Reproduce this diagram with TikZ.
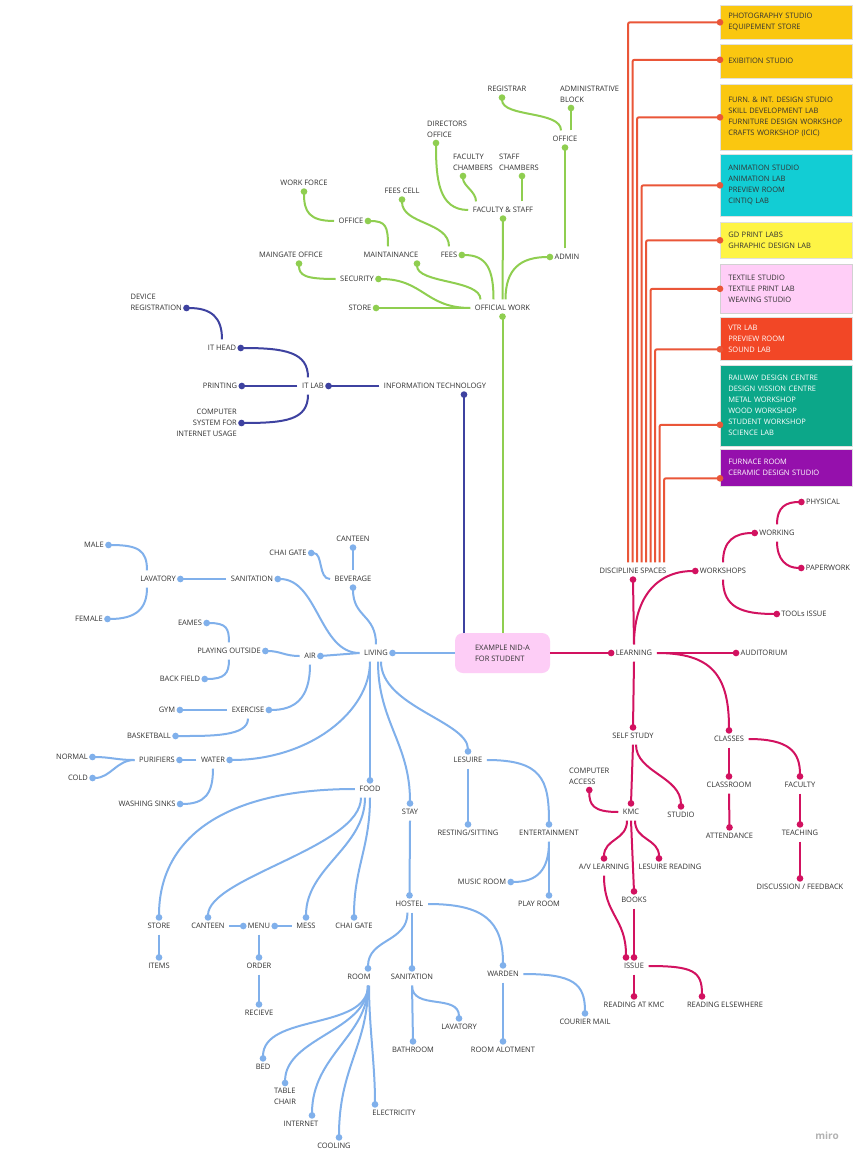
\documentclass[tikz,border=0pt]{standalone}
\usepackage{fontspec}
\setmainfont{Open Sans}
\usetikzlibrary{arrows.meta}
\definecolor{offGreen}{RGB}{143,206,80}
\definecolor{itBlue}{RGB}{62,66,160}
\definecolor{livBlue}{RGB}{128,176,235}
\definecolor{lrnMagenta}{RGB}{210,18,96}
\definecolor{dscOrange}{RGB}{234,86,56}
\definecolor{boxGold}{RGB}{250,199,16}
\definecolor{boxCyan}{RGB}{18,205,212}
\definecolor{boxYellow}{RGB}{254,244,69}
\definecolor{boxPink}{RGB}{255,206,247}
\definecolor{boxRed}{RGB}{242,71,38}
\definecolor{boxTeal}{RGB}{12,167,137}
\definecolor{boxPurple}{RGB}{149,16,172}
\definecolor{hubPink}{RGB}{253,205,246}
\definecolor{txtGray}{RGB}{50,50,50}
\tikzset{
  lbl/.style={font=\fontsize{7.5}{11}\selectfont, text=txtGray,
    inner xsep=4.5pt, inner ysep=5.5pt, text height=5.4pt, text depth=0.4pt},
  mlbl/.style={font=\fontsize{7.5}{11}\selectfont, text=txtGray,
    inner xsep=4.5pt, inner ysep=5.3pt},
  hubbox/.style={rectangle, rounded corners=8pt, fill=hubPink,
    minimum width=95pt, minimum height=40pt, align=left,
    font=\fontsize{7.5}{11}\selectfont, text=txtGray},
  dbox/.style={rectangle, draw=black!12, line width=0.6pt, anchor=north west,
    minimum width=132pt, text width=116pt, inner xsep=8pt, align=left,
    font=\fontsize{7.5}{11}\selectfont, text=txtGray},
  lnk/.style={line width=2pt, -{Circle[length=6.5pt]}, shorten >=-3.25pt},
  offlink/.style={lnk, draw=offGreen},
  itlink/.style={lnk, draw=itBlue},
  livlink/.style={lnk, draw=livBlue},
  lrnlink/.style={lnk, draw=lrnMagenta},
  dsclink/.style={lnk, draw=dscOrange, rounded corners=2pt},
}
\begin{document}
\begin{tikzpicture}[x=1pt, y=-1pt]
\fill[white] (0,0) rectangle (861,1161);
\useasboundingbox (0,0) rectangle (861,1161);

\node[hubbox] (hub) at (502.5,653) {EXAMPLE NID-A\\FOR STUDENT};

% official work
\node[lbl] (offwork) at (502.5,308) {OFFICIAL WORK};
\node[lbl] (gstore) at (360,308) {STORE};
\node[lbl] (security) at (357,279) {SECURITY};
\node[lbl] (maint) at (391,255) {MAINTAINANCE};
\node[lbl] (fees) at (449,255) {FEES};
\node[lbl] (facstaff) at (503,210) {FACULTY \& STAFF};
\node[lbl] (admin) at (567,257) {ADMIN};
\node[lbl] (office1) at (565,139) {OFFICE};
\node[lbl] (registrar) at (507,89) {REGISTRAR};
\node[mlbl, align=left, anchor=south west] (adminblk) at (555.5,108) {ADMINISTRATIVE\\BLOCK};
\node[mlbl, align=left, anchor=south west] (directors) at (422.5,143) {DIRECTORS\\OFFICE};
\node[mlbl, align=left, anchor=south west] (faccham) at (448.5,176) {FACULTY\\CHAMBERS};
\node[mlbl, align=left, anchor=south west] (stafcham) at (494.5,176) {STAFF\\CHAMBERS};
\node[lbl] (office2) at (351,221) {OFFICE};
\node[lbl] (workforce) at (304,183) {WORK FORCE};
\node[lbl] (feescell) at (402,191) {FEES CELL};
\node[lbl] (maingate) at (291,255) {MAINGATE OFFICE};

\draw[offlink] (hub.north) -- (offwork.south);
\draw[offlink] (offwork.west) -- (gstore.east);
\draw[offlink] (offwork.west) .. controls +(-45,0) and +(45,0) .. (security.east);
\draw[offlink] ([xshift=-22pt]offwork.north) .. controls +(0,-20) and +(0,20) .. ([xshift=26pt]maint.south);
\draw[offlink] ([xshift=-9pt]offwork.north) .. controls +(0,-30) and +(25,0) .. (fees.east);
\draw[offlink] (offwork.north) -- (facstaff.south);
\draw[offlink] ([xshift=3pt]offwork.north) .. controls +(0,-30) and +(-30,0) .. (admin.west);
\draw[offlink] (admin.north -| office1.south) -- (office1.south);
\draw[offlink] ([xshift=-4pt]office1.north) .. controls +(0,-20) and +(0,20) .. ([xshift=-5pt]registrar.south);
\draw[offlink] ([xshift=6pt]office1.north) -- ([xshift=15.5pt]adminblk.south west);
\draw[offlink] (facstaff.west) .. controls +(-30,0) and +(0,35) .. ([xshift=13.5pt]directors.south west);
\draw[offlink] ([xshift=-27pt]facstaff.north) .. controls +(0,-10) and +(0,10) .. ([xshift=14.5pt]faccham.south west);
\draw[offlink] ([xshift=19pt]facstaff.north) -- ([xshift=27.5pt]stafcham.south west);
\draw[offlink] ([xshift=-3pt]maint.north) .. controls +(0,-20) and +(18,0) .. (office2.east);
\draw[offlink] (office2.west) .. controls +(-25,0) and +(0,20) .. (workforce.south);
\draw[offlink] (fees.north) .. controls +(0,-25) and +(0,25) .. (feescell.south);
\draw[offlink] (security.west) .. controls +(-30,0) and +(0,12) .. ([xshift=8pt]maingate.south);

% information technology
\node[lbl] (infotech) at (435,386) {INFORMATION TECHNOLOGY};
\node[lbl] (itlab) at (313,386) {IT LAB};
\node[lbl] (printing) at (220,386) {PRINTING};
\node[lbl] (ithead) at (222,348) {IT HEAD};
\node[mlbl, align=right, anchor=east] (compsys) at (241.5,423) {COMPUTER\\SYSTEM FOR\\INTERNET USAGE};
\node[mlbl, align=left, anchor=east] (devreg) at (186.5,302.5) {DEVICE\\REGISTRATION};

\draw[itlink] ([xshift=-38.5pt]hub.north) -- ([xshift=29pt]infotech.south);
\draw[itlink] (infotech.west) -- (itlab.east);
\draw[itlink] (itlab.west) -- (printing.east);
\draw[itlink] ([xshift=-5pt]itlab.north) .. controls +(0,-25) and +(45,0) .. (ithead.east);
\draw[itlink] ([xshift=-5pt]itlab.south) .. controls +(0,25) and +(45,0) .. (compsys.east);
\draw[itlink] (ithead.north) .. controls +(0,-22) and +(25,0) .. ([yshift=-5.5pt]devreg.east);

% living
\node[lbl] (living) at (376,653) {LIVING};
\node[lbl] (sanit1) at (252,579) {SANITATION};
\node[lbl] (beverage) at (353,579) {BEVERAGE};
\node[lbl] (canteen1) at (353,539) {CANTEEN};
\node[lbl] (chaigate1) at (288,553) {CHAI GATE};
\node[lbl] (lavatory1) at (158,579) {LAVATORY};
\node[lbl] (male) at (94,545) {MALE};
\node[lbl] (female) at (89,619) {FEMALE};
\node[lbl] (air) at (310,656) {AIR};
\node[lbl] (playout) at (229,651) {PLAYING OUTSIDE};
\node[lbl] (eames) at (190,623) {EAMES};
\node[lbl] (backfield) at (180,679) {BACK FIELD};
\node[lbl] (exercise) at (248,710) {EXERCISE};
\node[lbl] (gym) at (167,710) {GYM};
\node[lbl] (basketball) at (149,736) {BASKETBALL};
\node[lbl] (water) at (213,760) {WATER};
\node[lbl] (purifiers) at (157,760) {PURIFIERS};
\node[lbl] (normal) at (72,757) {NORMAL};
\node[lbl] (cold) at (78,778) {COLD};
\node[lbl] (washsinks) at (147,804) {WASHING SINKS};

\draw[livlink] (hub.west) -- (living.east);
\draw[livlink] (living.west) .. controls +(-40,0) and +(40,0) .. (sanit1.east);
\draw[livlink] (living.north) .. controls +(0,-30) and +(0,30) .. (beverage.south);
\draw[livlink] (beverage.north) -- (canteen1.south);
\draw[livlink] (beverage.west) .. controls +(-12,0) and +(12,0) .. (chaigate1.east);
\draw[livlink] (sanit1.west) -- (lavatory1.east);
\draw[livlink] ([xshift=-11pt]lavatory1.north) .. controls +(0,-20) and +(30,0) .. (male.east);
\draw[livlink] ([xshift=-11pt]lavatory1.south) .. controls +(0,20) and +(30,0) .. (female.east);
\draw[livlink] (living.west) -- (air.east);
\draw[livlink] (air.west) .. controls +(-15,0) and +(15,0) .. (playout.east);
\draw[livlink] (air.south) .. controls +(0,35) and +(25,0) .. (exercise.east);
\draw[livlink] (playout.north) .. controls +(0,-14) and +(20,0) .. (eames.east);
\draw[livlink] (playout.south) .. controls +(0,14) and +(20,0) .. (backfield.east);
\draw[livlink] (exercise.west) -- (gym.east);
\draw[livlink] (exercise.south) .. controls +(0,18) and +(35,0) .. (basketball.east);
\draw[livlink] ([xshift=-6pt]living.south) .. controls +(0,50) and +(80,0) .. (water.east);
\draw[livlink] (water.west) -- (purifiers.east);
\draw[livlink] (purifiers.west) .. controls +(-18,0) and +(18,0) .. (normal.east);
\draw[livlink] (purifiers.west) .. controls +(-18,0) and +(18,0) .. (cold.east);
\draw[livlink] (water.south) .. controls +(0,25) and +(25,0) .. (washsinks.east);

% food
\node[lbl] (food) at (370,789) {FOOD};
\node[lbl] (fstore) at (159,926) {STORE};
\node[lbl] (items) at (159,966) {ITEMS};
\node[lbl] (canteen2) at (208,926) {CANTEEN};
\node[lbl] (menu) at (259,926) {MENU};
\node[lbl] (mess) at (306,926) {MESS};
\node[lbl] (chaigate2) at (354,926) {CHAI GATE};
\node[lbl] (order) at (259,966) {ORDER};
\node[lbl] (recieve) at (259,1013) {RECIEVE};

\draw[livlink] (living.south -| food.north) -- (food.north);
\draw[livlink] (food.west) .. controls +(-130,0) and +(0,-80) .. (fstore.north);
\draw[livlink] ([xshift=-9pt]food.south) .. controls +(0,50) and +(0,-40) .. (canteen2.north);
\draw[livlink] ([xshift=-5pt]food.south) .. controls +(0,50) and +(0,-50) .. (mess.north);
\draw[livlink] (food.south) .. controls +(0,50) and +(0,-50) .. (chaigate2.north);
\draw[livlink] (fstore.south) -- (items.north);
\draw[livlink] (canteen2.east) -- (menu.west);
\draw[livlink] (mess.west) -- (menu.east);
\draw[livlink] (menu.south) -- (order.north);
\draw[livlink] (order.south) -- (recieve.north);

% stay
\node[lbl] (stay) at (410,812) {STAY};
\node[lbl] (hostel) at (409.5,904) {HOSTEL};
\node[lbl] (room) at (359,977) {ROOM};
\node[lbl] (sanit2) at (412,977) {SANITATION};
\node[lbl] (warden) at (503,974) {WARDEN};
\node[lbl] (bed) at (263,1067) {BED};
\node[mlbl, align=left, anchor=north west] (tablechair) at (269.5,1083) {TABLE\\CHAIR};
\node[lbl] (internet) at (301,1124) {INTERNET};
\node[lbl] (cooling) at (334,1146) {COOLING};
\node[lbl] (electricity) at (394,1113) {ELECTRICITY};
\node[lbl] (bathroom) at (413,1050) {BATHROOM};
\node[lbl] (lavatory2) at (459,1027) {LAVATORY};
\node[lbl] (roomalot) at (503,1050) {ROOM ALOTMENT};
\node[lbl] (courier) at (585,1022) {COURIER MAIL};

\draw[livlink] ([xshift=2pt]living.south) .. controls +(0,60) and +(0,-60) .. (stay.north);
\draw[livlink] (stay.south) -- (hostel.north);
\draw[livlink] ([xshift=-2pt]hostel.south) .. controls +(0,30) and +(0,-30) .. ([xshift=9pt]room.north);
\draw[livlink] (hostel.south -| sanit2.north) -- (sanit2.north);
\draw[livlink] (hostel.east) .. controls +(55,0) and +(0,-45) .. (warden.north);
\draw[livlink] ([xshift=9pt]room.south) .. controls +(0,45) and +(0,-45) .. (bed.north);
\draw[livlink] ([xshift=9pt]room.south) .. controls +(0,45) and +(0,-45) .. (tablechair.north);
\draw[livlink] ([xshift=9pt]room.south) .. controls +(0,50) and +(0,-60) .. ([xshift=11pt]internet.north);
\draw[livlink] ([xshift=9pt]room.south) .. controls +(0,60) and +(0,-70) .. ([xshift=5pt]cooling.north);
\draw[livlink] ([xshift=10pt]room.south) .. controls +(0,40) and +(0,-40) .. ([xshift=-19pt]electricity.north);
\draw[livlink] (sanit2.south) -- (bathroom.north);
\draw[livlink] (sanit2.south) .. controls +(0,25) and +(0,-25) .. (lavatory2.north);
\draw[livlink] (warden.south) -- (roomalot.north);
\draw[livlink] (warden.east) .. controls +(50,0) and +(0,-30) .. (courier.north);

% lesuire
\node[lbl] (lesuire) at (468,760) {LESUIRE};
\node[lbl] (resting) at (468,833) {RESTING/SITTING};
\node[lbl] (entertain) at (549,833) {ENTERTAINMENT};
\node[lbl] (musicroom) at (482,882) {MUSIC ROOM};
\node[lbl] (playroom) at (539,904) {PLAY ROOM};

\draw[livlink] ([xshift=5pt]living.south) .. controls +(0,45) and +(0,-30) .. (lesuire.north);
\draw[livlink] (lesuire.south) -- (resting.north);
\draw[livlink] (lesuire.east) .. controls +(55,0) and +(0,-45) .. (entertain.north);
\draw[livlink] (entertain.south) .. controls +(0,30) and +(25,0) .. (musicroom.east);
\draw[livlink] (entertain.south) -- (entertain.south |- playroom.north);

% learning
\node[lbl] (learning) at (634,653) {LEARNING};
\node[lbl] (discsp) at (633,571) {DISCIPLINE SPACES};
\node[lbl] (workshops) at (723,571) {WORKSHOPS};
\node[lbl] (working) at (777,533) {WORKING};
\node[lbl] (physical) at (823,502) {PHYSICAL};
\node[lbl] (paperwork) at (828,568) {PAPERWORK};
\node[lbl] (toolsissue) at (804,614) {TOOLs ISSUE};
\node[lbl] (auditorium) at (764,653) {AUDITORIUM};
\node[lbl] (selfstudy) at (633,736) {SELF STUDY};
\node[lbl] (classes) at (729,739) {CLASSES};
\node[lbl] (kmc) at (631,812) {KMC};
\node[lbl] (studio) at (681,815) {STUDIO};
\node[mlbl, align=left, anchor=south west] (compaccess) at (564.5,790) {COMPUTER\\ACCESS};
\node[lbl] (avlearn) at (604,867) {A/V LEARNING};
\node[lbl] (lesread) at (670,867) {LESUIRE READING};
\node[lbl] (books) at (634,900) {BOOKS};
\node[lbl] (issue) at (634,966) {ISSUE};
\node[lbl] (readkmc) at (634,1005) {READING AT KMC};
\node[lbl] (readelse) at (725,1005) {READING ELSEWHERE};
\node[lbl] (classroom) at (729,785) {CLASSROOM};
\node[lbl] (faculty) at (800,785) {FACULTY};
\node[lbl] (attendance) at (729.5,836) {ATTENDANCE};
\node[lbl] (teaching) at (800,833) {TEACHING};
\node[lbl] (discussion) at (800,887) {DISCUSSION / FEEDBACK};

\draw[lrnlink] (hub.east) -- (learning.west);
\draw[lrnlink] (learning.north) -- (discsp.south);
\draw[lrnlink] (learning.north) .. controls +(0,-45) and +(-40,0) .. (workshops.west);
\draw[lrnlink] (learning.east) -- (auditorium.west);
\draw[lrnlink] (learning.south) -- (selfstudy.north);
\draw[lrnlink] (learning.east) .. controls +(55,0) and +(0,-55) .. (classes.north);
\draw[lrnlink] (workshops.north) .. controls +(0,-22) and +(-20,0) .. (working.west);
\draw[lrnlink] (workshops.south) .. controls +(0,28) and +(-35,0) .. (toolsissue.west);
\draw[lrnlink] (working.north) .. controls +(0,-18) and +(-15,0) .. (physical.west);
\draw[lrnlink] (working.south) .. controls +(0,18) and +(-15,0) .. (paperwork.west);
\draw[lrnlink] (selfstudy.south) -- (kmc.north);
\draw[lrnlink] ([xshift=3pt]selfstudy.south) .. controls +(0,28) and +(0,-30) .. (studio.north);
\draw[lrnlink] (kmc.west) .. controls +(-25,0) and +(0,15) .. (compaccess.south);
\draw[lrnlink] ([xshift=-4pt]kmc.south) .. controls +(0,20) and +(0,-20) .. (avlearn.north);
\draw[lrnlink] ([xshift=4pt]kmc.south) .. controls +(0,20) and +(0,-20) .. ([xshift=-11pt]lesread.north);
\draw[lrnlink] (kmc.south) -- (books.north);
\draw[lrnlink] (avlearn.south) .. controls +(0,40) and +(0,-40) .. ([xshift=-8pt]issue.north);
\draw[lrnlink] (books.south) -- (issue.north);
\draw[lrnlink] (issue.south) -- (readkmc.north);
\draw[lrnlink] (issue.east) .. controls +(45,0) and +(0,-25) .. ([xshift=-23pt]readelse.north);
\draw[lrnlink] (classes.south) -- (classroom.north);
\draw[lrnlink] (classes.east) .. controls +(40,0) and +(0,-25) .. (faculty.north);
\draw[lrnlink] (classroom.south) -- (attendance.north);
\draw[lrnlink] (faculty.south) -- (teaching.north);
\draw[lrnlink] (teaching.south) -- (discussion.north);

% discipline spaces
\node[dbox, fill=boxGold, minimum height=34pt] (photo) at (720,5) {PHOTOGRAPHY STUDIO\\EQUIPEMENT STORE};
\node[dbox, fill=boxGold, minimum height=34pt] (exib) at (720,44) {EXIBITION STUDIO};
\node[dbox, fill=boxGold, minimum height=66pt] (furn) at (720,84) {FURN. \& INT. DESIGN STUDIO\\SKILL DEVELOPMENT LAB\\FURNITURE DESIGN WORKSHOP\\CRAFTS WORKSHOP (ICIC)};
\node[dbox, fill=boxCyan, minimum height=62pt] (anim) at (720,154) {ANIMATION STUDIO\\ANIMATION LAB\\PREVIEW ROOM\\CINTIQ LAB};
\node[dbox, fill=boxYellow, minimum height=36pt] (gdlab) at (720,222) {GD PRINT LABS\\GHRAPHIC DESIGN LAB};
\node[dbox, fill=boxPink, draw=black!18, minimum height=49pt] (textile) at (720,264) {TEXTILE STUDIO\\TEXTILE PRINT LAB\\WEAVING STUDIO};
\node[dbox, fill=boxRed, text=white, minimum height=43pt] (vtr) at (720,317) {VTR LAB\\PREVIEW ROOM\\SOUND LAB};
\node[dbox, fill=boxTeal, text=white, minimum height=81pt] (railway) at (720,365) {RAILWAY DESIGN CENTRE\\DESIGN VISSION CENTRE\\METAL WORKSHOP\\WOOD WORKSHOP\\STUDENT WORKSHOP\\SCIENCE LAB};
\node[dbox, fill=boxPurple, text=white, minimum height=37pt] (furnace) at (720,449) {FURNACE ROOM\\CERAMIC DESIGN STUDIO};

\foreach \bx/\dx/\dy in {photo/-5/0, exib/-0.5/1.5, furn/4/0, anim/8.5/0, gdlab/13/0,
    textile/17.5/0, vtr/22/-10.5, railway/26.5/-19, furnace/31/-10.5}
  \draw[dsclink] ([xshift=\dx pt]discsp.north) |- ([yshift=\dy pt]\bx.west);

\node[font=\bfseries\fontsize{10}{10}\selectfont, text=black!30] (miro) at (827,1136) {miro};
\end{tikzpicture}
\end{document}
